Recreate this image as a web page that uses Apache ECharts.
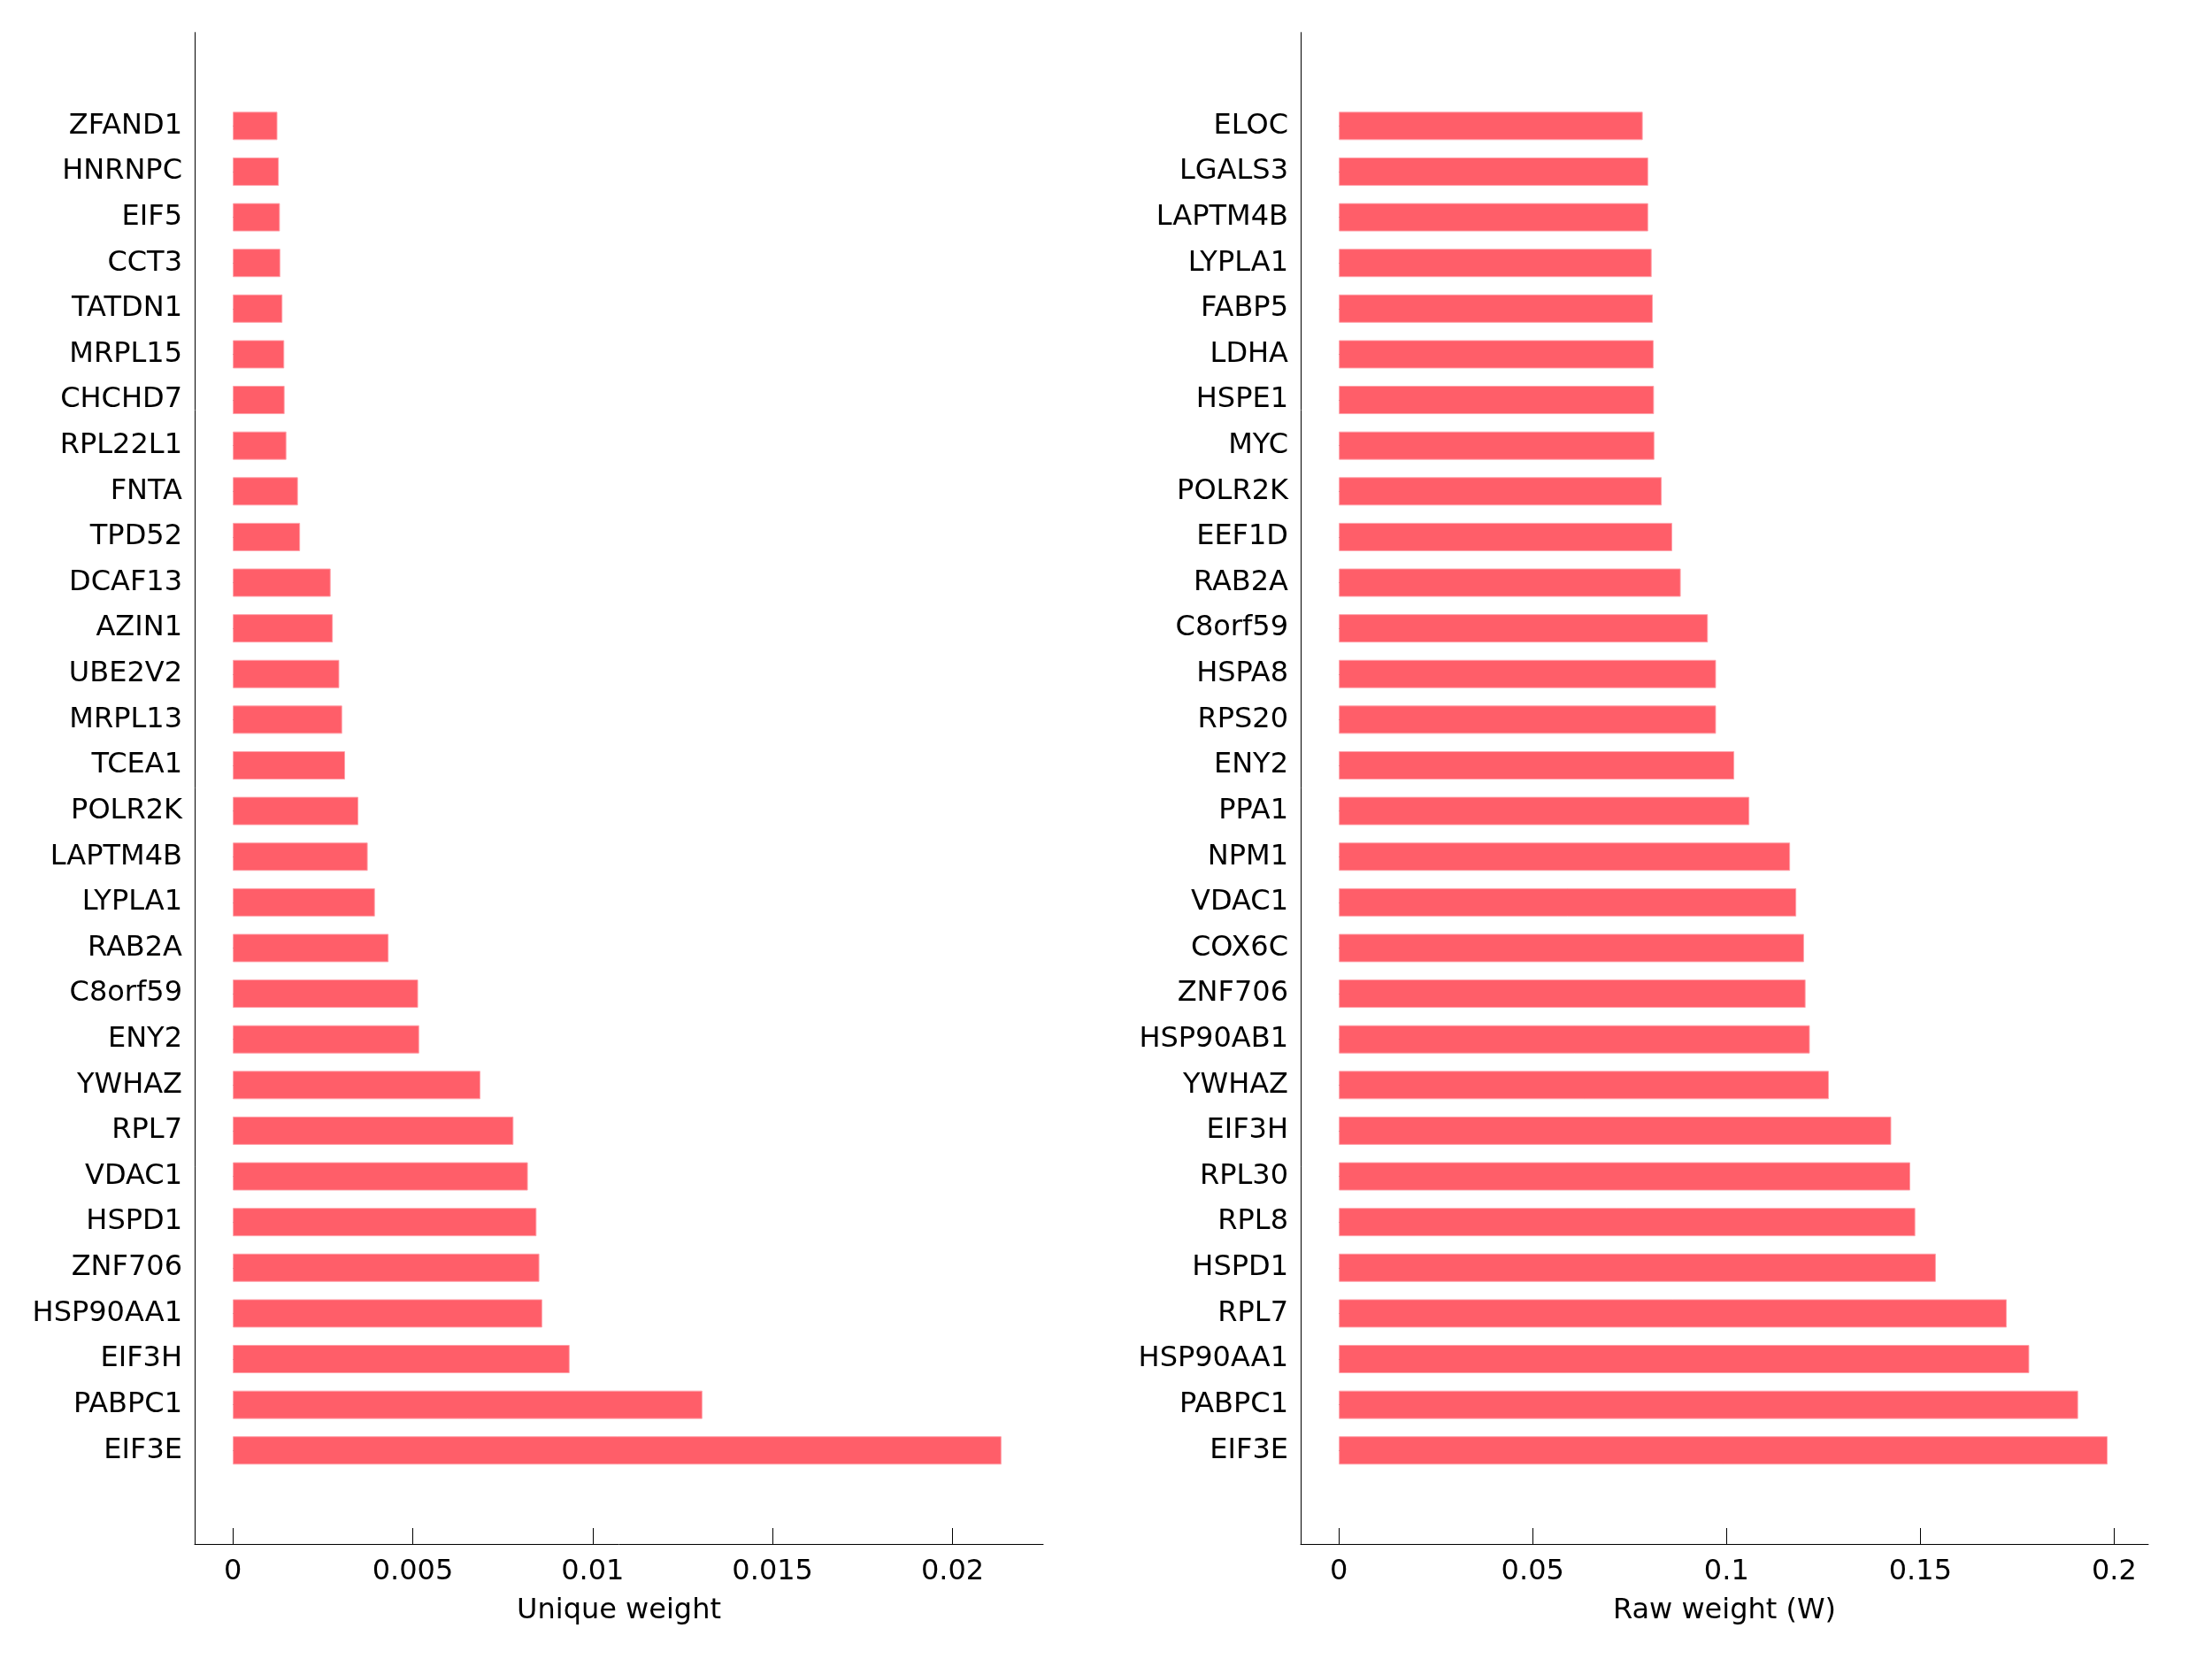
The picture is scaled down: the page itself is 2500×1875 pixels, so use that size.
<!DOCTYPE html>
<html>
<head>
<meta charset="utf-8">
<script src="https://cdn.jsdelivr.net/npm/echarts@6/dist/echarts.min.js"></script>
<style>
html,body{margin:0;padding:0;background:#fff;}
#chart{width:2500px;height:1875px;}
</style>
</head>
<body>
<div id="chart"></div>
<script>
// Left panel (Unique weight), top to bottom
const leftGenes = ['ZFAND1','HNRNPC','EIF5','CCT3','TATDN1','MRPL15','CHCHD7','RPL22L1','FNTA','TPD52','DCAF13','AZIN1','UBE2V2','MRPL13','TCEA1','POLR2K','LAPTM4B','LYPLA1','RAB2A','C8orf59','ENY2','YWHAZ','RPL7','VDAC1','HSPD1','ZNF706','HSP90AA1','EIF3H','PABPC1','EIF3E'];
const leftValues = [0.00124,0.00128,0.00131,0.00132,0.00138,0.00143,0.00144,0.00149,0.00181,0.00187,0.00272,0.00278,0.00296,0.00304,0.00312,0.00349,0.00375,0.00395,0.00433,0.00515,0.00518,0.00688,0.00780,0.00820,0.00844,0.00852,0.00860,0.00936,0.01305,0.02136];
// Right panel (Raw weight), top to bottom
const rightGenes = ['ELOC','LGALS3','LAPTM4B','LYPLA1','FABP5','LDHA','HSPE1','MYC','POLR2K','EEF1D','RAB2A','C8orf59','HSPA8','RPS20','ENY2','PPA1','NPM1','VDAC1','COX6C','ZNF706','HSP90AB1','YWHAZ','EIF3H','RPL30','RPL8','HSPD1','RPL7','HSP90AA1','PABPC1','EIF3E'];
const rightValues = [0.0784,0.0798,0.0798,0.0807,0.0810,0.0812,0.0813,0.0814,0.0833,0.0860,0.0882,0.0952,0.0973,0.0973,0.1020,0.1059,0.1164,0.1180,0.1200,0.1204,0.1215,0.1264,0.1425,0.1474,0.1487,0.1540,0.1723,0.1781,0.1907,0.1983];
const leftTicks = [0,0.005,0.01,0.015,0.02];
const rightTicks = [0,0.05,0.1,0.15,0.2];
const leftTitle = 'Unique weight';
const rightTitle = 'Raw weight (W)';

const PAD = 2; // empty slots above and below the categories
function padCats(arr){ const e = Array(PAD).fill(''); return e.concat(arr, e); }
function padVals(arr){ const e = Array(PAD).fill(null); return e.concat(arr, e); }

const FONT = 'DejaVu Sans';
const BAR = '#FF5E69';
const lineStyle = {color:'#000', width:1};

// frame grids (axes lines, x ticks, x labels) and data grids (bars, y labels)
const frameTop = 36.7, frameBottom = 130;
const dataTop = 39.1, dataBottom = 132.5;
const panels = [
  {left:220, right:1321, min:-0.00106, max:0.02252, ticks:leftTicks, title:leftTitle, cats:leftGenes, vals:leftValues},
  {left:1470, right:72, min:-0.00985, max:0.2088, ticks:rightTicks, title:rightTitle, cats:rightGenes, vals:rightValues}
];

const grid = [], xAxis = [], yAxis = [], series = [];
panels.forEach((p, i) => {
  const fg = grid.length;
  grid.push({left:p.left, right:p.right, top:frameTop, bottom:frameBottom});
  xAxis.push({
    type:'value', gridIndex:fg, min:p.min, max:p.max,
    name:p.title, nameLocation:'middle', nameGap:60,
    nameTextStyle:{fontFamily:FONT, fontSize:32, color:'#000'},
    axisLine:{show:true, onZero:false, lineStyle:lineStyle},
    axisTick:{show:true, inside:true, length:18, lineStyle:lineStyle, customValues:p.ticks},
    axisLabel:{fontFamily:FONT, fontSize:32, color:'#000', margin:16, customValues:p.ticks,
      formatter:v=>String(+(+v).toFixed(6))},
    splitLine:{show:false}
  });
  yAxis.push({
    type:'value', gridIndex:fg, min:0, max:1,
    axisLine:{show:true, onZero:false, lineStyle:lineStyle},
    axisTick:{show:false}, axisLabel:{show:false}, splitLine:{show:false}
  });
  const dg = grid.length;
  grid.push({left:p.left, right:p.right, top:dataTop, bottom:dataBottom});
  xAxis.push({type:'value', gridIndex:dg, min:p.min, max:p.max, show:false, splitLine:{show:false}});
  yAxis.push({
    type:'category', gridIndex:dg, data:padCats(p.cats), inverse:true, boundaryGap:false,
    axisLine:{show:false},
    axisTick:{show:true, inside:true, length:18, lineStyle:lineStyle, interval:(k,v)=>v!==''},
    axisLabel:{fontFamily:FONT, fontSize:32, color:'#000', margin:14, padding:[6,0,0,0],
      interval:(k,v)=>v!==''},
    splitLine:{show:false}
  });
  series.push({
    type:'bar', xAxisIndex:dg, yAxisIndex:dg, data:padVals(p.vals), barWidth:32,
    itemStyle:{color:BAR, borderColor:'rgba(255,160,168,0.9)', borderWidth:1}
  });
});

const chart = echarts.init(document.getElementById('chart'), null, {renderer:'canvas'});
chart.setOption({
  animation:false,
  backgroundColor:'#fff',
  grid:grid, xAxis:xAxis, yAxis:yAxis, series:series
});
</script>
</body>
</html>
